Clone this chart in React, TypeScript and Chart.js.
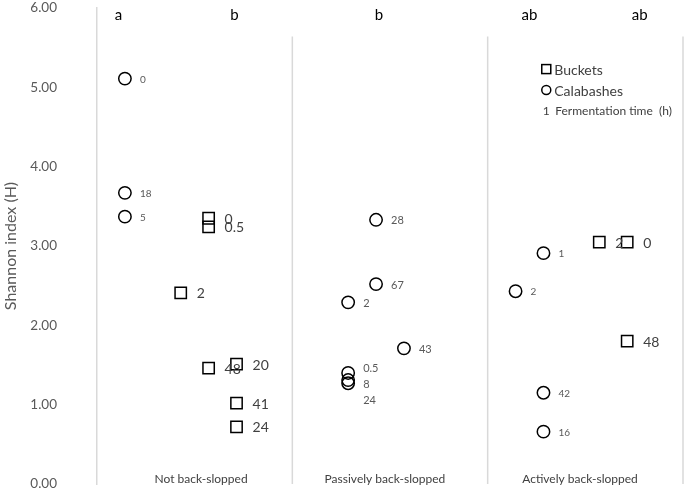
import React, { useEffect, useRef } from "react";
import { Chart, registerables } from "chart.js";

Chart.register(...registerables);

// ---- Data ----
const categories = ["Not back-slopped", "Passively back-slopped", "Actively back-slopped"];
const categoryX = [3.73, 10.32, 17.31];
const panelEdges = [7, 14, 21];

const letters = ["a", "b", "b", "ab", "ab"];
const letterX = [0.77, 4.93, 10.1, 15.5, 19.45];
const letterY = 5.91;

const yTicks = [0, 1, 2, 3, 4, 5, 6];

const bucketsX = [3, 4, 4, 4, 5, 5, 5, 18, 19, 19];
const bucketsY = [2.41, 3.35, 3.24, 1.46, 1.51, 1.02, 0.72, 3.05, 3.05, 1.8];
const bucketsTime = ["2", "0", "0.5", "48", "20", "41", "24", "2", "0", "48"];

const calabashesX = [1, 1, 1, 9, 9, 9, 9, 10, 10, 11, 15, 16, 16, 16];
const calabashesY = [5.11, 3.67, 3.37, 2.29, 1.4, 1.31, 1.27, 3.33, 2.52, 1.71, 2.43, 2.91, 1.15, 0.66];
const calabashesTime = ["0", "18", "5", "2", "0.5", "8", "24", "28", "67", "43", "2", "1", "42", "16"];
// vertical nudges of the overlapping labels (px)
const calabashesLabelDy = [0, 0, 0, 0, -5, 3, 16, 0, 0, 0, 0, 0, 0, 0];

const FONT = 'Lato, "Liberation Sans", sans-serif';

const decorPlugin = {
  id: "decor",
  beforeDatasetsDraw(chart: any) {
    const { ctx, scales } = chart;
    const xs = scales.x;
    const ys = scales.y;
    ctx.save();
    ctx.strokeStyle = "#d9d9d9";
    ctx.lineWidth = 1.5;
    panelEdges.forEach((e) => {
      const px = xs.getPixelForValue(e);
      ctx.beginPath();
      ctx.moveTo(px, ys.getPixelForValue(5.64));
      ctx.lineTo(px, ys.getPixelForValue(0));
      ctx.stroke();
    });
    ctx.restore();
  },
  afterDatasetsDraw(chart: any) {
    const { ctx, scales, chartArea } = chart;
    const xs = scales.x;
    const ys = scales.y;
    ctx.save();
    ctx.textBaseline = "middle";
    ctx.textAlign = "left";

    // bucket labels
    const mb = chart.getDatasetMeta(0);
    ctx.fillStyle = "#404040";
    ctx.font = `14px ${FONT}`;
    mb.data.forEach((el: any, j: number) => {
      ctx.fillText(bucketsTime[j], el.x + 16, el.y + 1);
    });

    // calabash labels
    const mc = chart.getDatasetMeta(1);
    ctx.fillStyle = "#595959";
    mc.data.forEach((el: any, j: number) => {
      const xv = calabashesX[j];
      const size = xv > 7 && xv < 14 ? 11 : 10;
      ctx.font = `${size}px ${FONT}`;
      ctx.fillText(calabashesTime[j], el.x + 15, el.y + 1 + calabashesLabelDy[j]);
    });

    // significance letters
    ctx.fillStyle = "#000000";
    ctx.font = `15px ${FONT}`;
    ctx.textAlign = "center";
    letters.forEach((l, i) => {
      ctx.fillText(l, xs.getPixelForValue(letterX[i]), ys.getPixelForValue(letterY));
    });

    // category labels
    ctx.fillStyle = "#404040";
    ctx.font = `12px ${FONT}`;
    categories.forEach((c, i) => {
      ctx.fillText(c, xs.getPixelForValue(categoryX[i]), chartArea.bottom - 5);
    });

    // legend
    const lx = xs.getPixelForValue(16.1);
    const ly = ys.getPixelForValue(5.23);
    const gap = 21;
    ctx.strokeStyle = "#000";
    ctx.lineWidth = 1.5;
    ctx.strokeRect(lx - 4.5, ly - 4.5, 9, 9);
    ctx.beginPath();
    ctx.arc(lx, ly + gap, 4.5, 0, Math.PI * 2);
    ctx.stroke();
    ctx.textAlign = "left";
    ctx.fillStyle = "#404040";
    ctx.font = `14px ${FONT}`;
    ctx.fillText("Buckets", lx + 8, ly + 1);
    ctx.fillText("Calabashes", lx + 8, ly + gap + 1);
    ctx.font = `12px ${FONT}`;
    ctx.textAlign = "center";
    ctx.fillText("1", lx, ly + 2 * gap);
    ctx.textAlign = "left";
    ctx.fillText("Fermentation time  (h)", lx + 9, ly + 2 * gap);
    ctx.restore();
  },
};

export default function App() {
  const ref = useRef<HTMLCanvasElement | null>(null);

  useEffect(() => {
    if (!ref.current) return;
    const chart = new Chart(ref.current, {
      type: "scatter",
      data: {
        datasets: [
          {
            label: "Buckets",
            data: bucketsX.map((x, i) => ({ x, y: bucketsY[i] })),
            pointStyle: "rect",
            pointRadius: 8,
            pointHoverRadius: 8,
            pointBorderWidth: 1.5,
            borderColor: "#000",
            backgroundColor: "rgba(0,0,0,0)",
          },
          {
            label: "Calabashes",
            data: calabashesX.map((x, i) => ({ x, y: calabashesY[i] })),
            pointStyle: "circle",
            pointRadius: 6.2,
            pointHoverRadius: 6.2,
            pointBorderWidth: 1.5,
            borderColor: "#000",
            backgroundColor: "rgba(0,0,0,0)",
          },
        ],
      },
      options: {
        animation: false,
        responsive: false,
        layout: { autoPadding: false, padding: { top: 8, right: 2, bottom: 9, left: 0 } },
        plugins: { legend: { display: false }, tooltip: { enabled: false } },
        scales: {
          x: { type: "linear", min: 0, max: 21, display: false },
          y: {
            type: "linear",
            min: 0,
            max: 6,
            afterFit: (s: any) => {
              s.width = 97;
              s.paddingTop = 0;
              s.paddingBottom = 0;
            },
            afterBuildTicks: (s: any) => {
              s.ticks = yTicks.map((v) => ({ value: v }));
            },
            grid: { display: false, drawTicks: false },
            border: { display: true, color: "#d9d9d9", width: 1.5 },
            ticks: {
              padding: 40,
              color: "#595959",
              font: { size: 13.5, family: FONT },
              callback: (v: any) => Number(v).toFixed(2),
            },
            title: {
              display: true,
              text: "Shannon index (H)",
              color: "#595959",
              font: { size: 16, family: FONT },
              padding: { top: 1, bottom: 2 },
            },
          },
        },
      },
      plugins: [decorPlugin],
    });
    return () => chart.destroy();
  }, []);

  return (
    <div style={{ position: "fixed", left: 0, top: 0, width: 685, height: 493, background: "#fff" }}>
      <canvas ref={ref} width={685} height={493} />
    </div>
  );
}
